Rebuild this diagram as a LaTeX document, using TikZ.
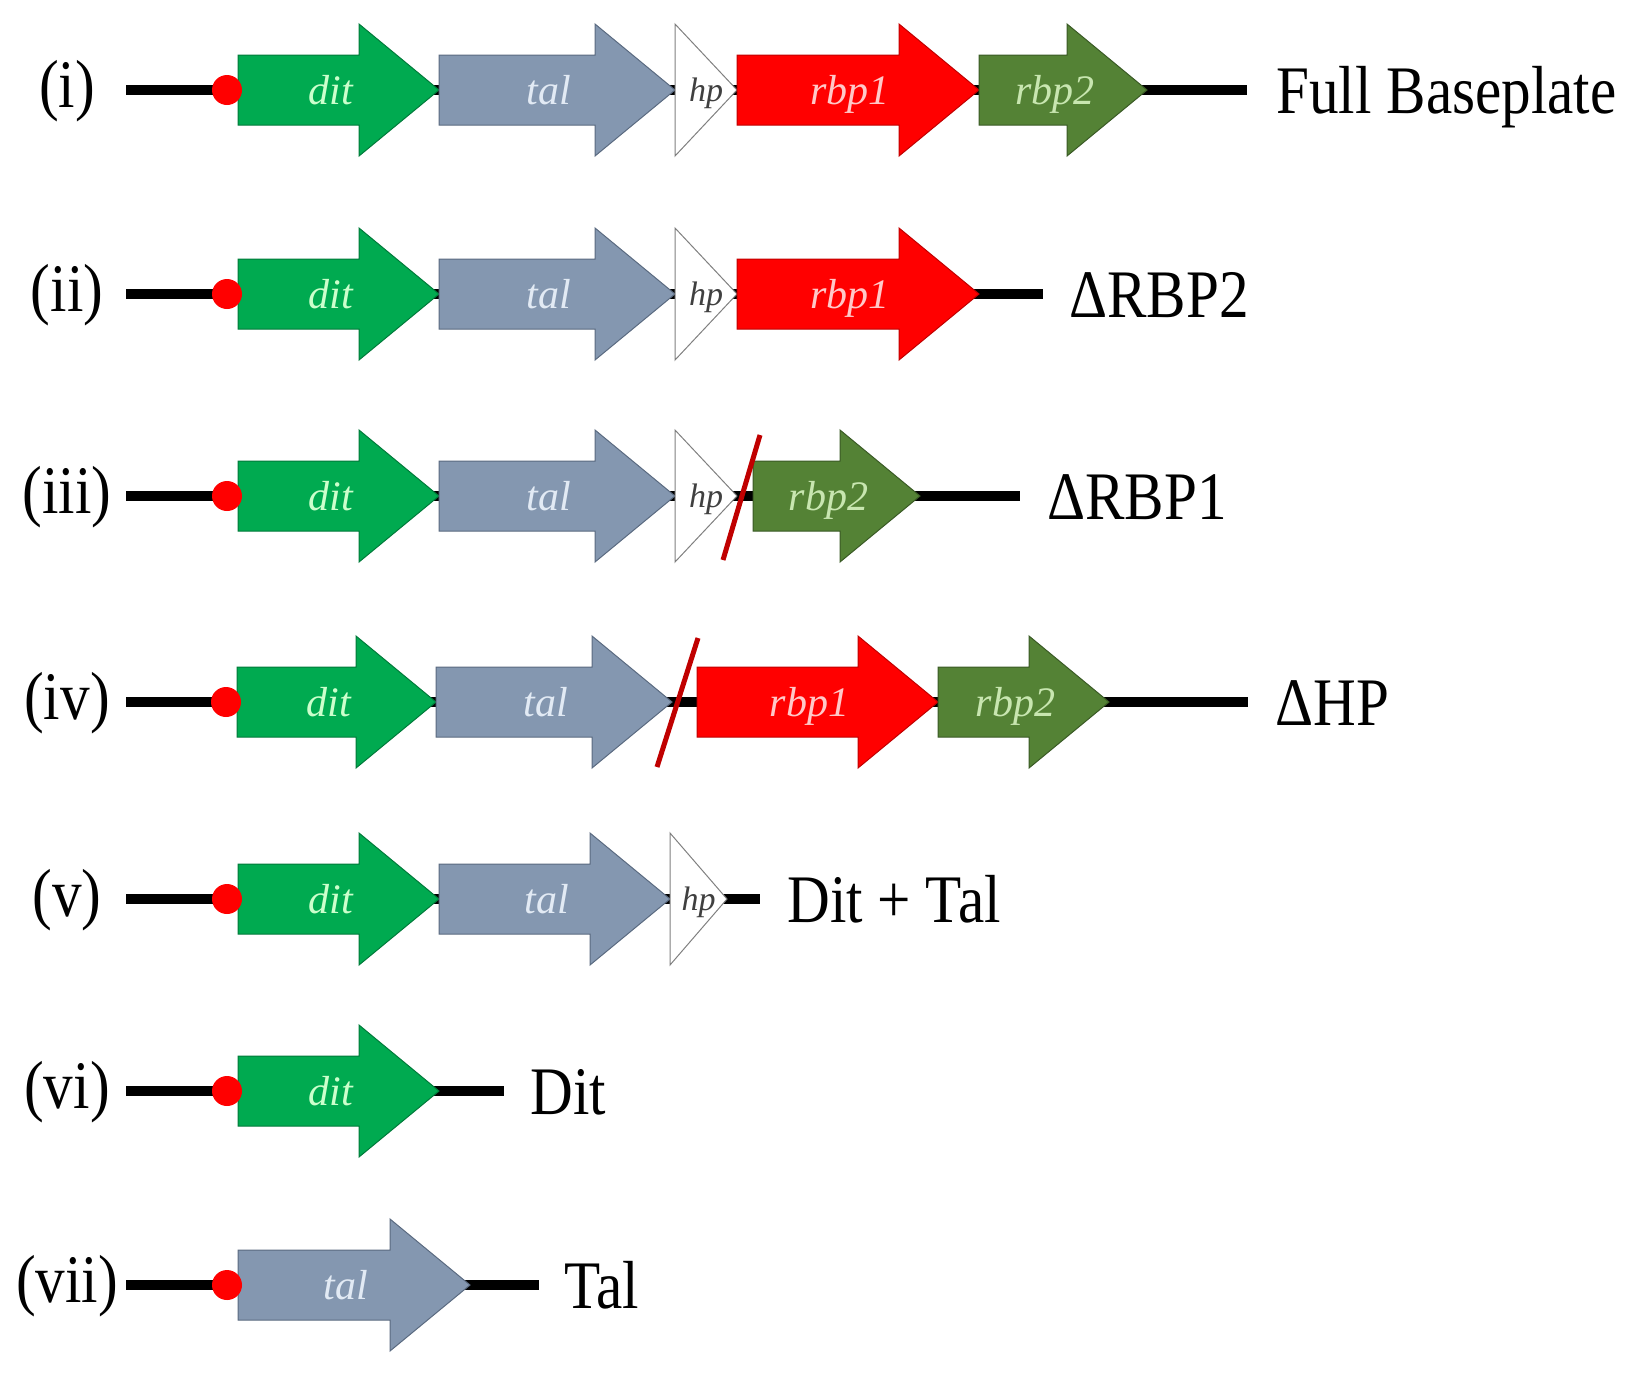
\documentclass[tikz,border=0pt]{standalone}
\usepackage{fontspec}
\setmainfont{Liberation Serif}
\definecolor{ditfill}{HTML}{00AA50}
\definecolor{ditdraw}{HTML}{007A3A}
\definecolor{dittext}{HTML}{CCFFCC}
\definecolor{talfill}{HTML}{8497B0}
\definecolor{taldraw}{HTML}{5A6A80}
\definecolor{taltext}{HTML}{E2EAF4}
\definecolor{rbpAfill}{HTML}{FF0000}
\definecolor{rbpAdraw}{HTML}{C00000}
\definecolor{rbpAtext}{HTML}{FFC8C8}
\definecolor{rbpBfill}{HTML}{548235}
\definecolor{rbpBdraw}{HTML}{3A5A25}
\definecolor{rbpBtext}{HTML}{C8E6B0}
\definecolor{hpdraw}{HTML}{808080}
\definecolor{hptext}{HTML}{404040}
\definecolor{slashred}{HTML}{C00000}
\newcommand\cond[1]{\scalebox{0.87}[1]{#1}}
% gene arrow: name, x0, xtip, y, fill, draw, textcolor, label
\newcommand\genearrow[8]{%
  \coordinate (#1s) at (#2,#4);
  \coordinate (#1t) at (#3,#4);
  \draw[genebox, fill=#5, draw=#6] ({#2},{#4-35}) -- ({#3-80},{#4-35}) -- ({#3-80},{#4-66})
     -- ({#3},{#4}) -- ({#3-80},{#4+66}) -- ({#3-80},{#4+35}) -- ({#2},{#4+35}) -- cycle;
  \node[genelab, text=#7] (#1) at ({(#2+#3)/2-8},{#4+14}) {#8};
}
% hp triangle: name, x0, xtip, y
\newcommand\hpgene[4]{%
  \coordinate (#1s) at (#2,#4);
  \coordinate (#1t) at (#3,#4);
  \draw[genebox, fill=white, draw=hpdraw] ({#2},{#4-66}) -- ({#3},{#4}) -- ({#2},{#4+66}) -- cycle;
  \node[hplab] (#1) at ({(#2+#3)/2},{#4+11}) {hp};
}
\begin{document}
\begin{tikzpicture}[x={(0.5pt,0)}, y={(0,-0.5pt)},
  genebox/.style={line width=0.5pt, line join=miter},
  genelab/.style={anchor=base, inner sep=0pt, font=\fontsize{21}{21}\selectfont\itshape},
  hplab/.style={anchor=base, inner sep=0pt, text=hptext, font=\fontsize{17}{17}\selectfont\itshape},
  rowlab/.style={anchor=base, inner sep=0pt, font=\fontsize{34}{34}\selectfont},
  sidelab/.style={anchor=base west, inner sep=0pt, font=\fontsize{34}{34}\selectfont},
  backbone/.style={line width=5pt, black},
  slash/.style={line width=2.5pt, slashred},
  dot/.style={circle, fill=red, inner sep=0pt, minimum size=15pt}]
\useasboundingbox (0,0) rectangle (1628,1373);

% ---------- row (i) ----------
\coordinate (a1) at (126,90); \coordinate (b1) at (1247,90);
\draw[backbone] (a1) -- (b1);
\genearrow{dit1}{238}{439}{90}{ditfill}{ditdraw}{dittext}{dit}
\genearrow{tal1}{439}{675}{90}{talfill}{taldraw}{taltext}{tal}
\hpgene{hp1}{675}{737}{90}
\genearrow{rbpA1}{737}{979}{90}{rbpAfill}{rbpAdraw}{rbpAtext}{rbp1}
\genearrow{rbpB1}{979}{1147}{90}{rbpBfill}{rbpBdraw}{rbpBtext}{rbp2}
\node[dot] (p1) at (227,90) {};
\node[rowlab] (r1) at (67,107) {\cond{(i)}};
\node[sidelab] (t1) at (1276,113) {\cond{Full Baseplate}};

% ---------- row (ii) ----------
\coordinate (a2) at (126,294); \coordinate (b2) at (1043,294);
\draw[backbone] (a2) -- (b2);
\genearrow{dit2}{238}{439}{294}{ditfill}{ditdraw}{dittext}{dit}
\genearrow{tal2}{439}{675}{294}{talfill}{taldraw}{taltext}{tal}
\hpgene{hp2}{675}{737}{294}
\genearrow{rbpA2}{737}{979}{294}{rbpAfill}{rbpAdraw}{rbpAtext}{rbp1}
\node[dot] (p2) at (227,294) {};
\node[rowlab] (r2) at (67,311) {\cond{(ii)}};
\node[sidelab] (t2) at (1069,317) {\cond{ΔRBP2}};

% ---------- row (iii) ----------
\coordinate (a3) at (126,496); \coordinate (b3) at (1020,496);
\draw[backbone] (a3) -- (b3);
\genearrow{dit3}{238}{439}{496}{ditfill}{ditdraw}{dittext}{dit}
\genearrow{tal3}{439}{675}{496}{talfill}{taldraw}{taltext}{tal}
\hpgene{hp3}{675}{737}{496}
\genearrow{rbpB3}{753}{920}{496}{rbpBfill}{rbpBdraw}{rbpBtext}{rbp2}
\node[dot] (p3) at (227,496) {};
\coordinate (s3a) at (760,435); \coordinate (s3b) at (723,560);
\draw[slash] (s3a) -- (s3b);
\node[rowlab] (r3) at (67,513) {\cond{(iii)}};
\node[sidelab] (t3) at (1047,519) {\cond{ΔRBP1}};

% ---------- row (iv) ----------
\coordinate (a4) at (126,702); \coordinate (b4) at (1248,702);
\draw[backbone] (a4) -- (b4);
\genearrow{dit4}{237}{436}{702}{ditfill}{ditdraw}{dittext}{dit}
\genearrow{tal4}{436}{672}{702}{talfill}{taldraw}{taltext}{tal}
\genearrow{rbpA4}{697}{938}{702}{rbpAfill}{rbpAdraw}{rbpAtext}{rbp1}
\genearrow{rbpB4}{938}{1109}{702}{rbpBfill}{rbpBdraw}{rbpBtext}{rbp2}
\node[dot] (p4) at (226,702) {};
\coordinate (s4a) at (698,638); \coordinate (s4b) at (657,767);
\draw[slash] (s4a) -- (s4b);
\node[rowlab] (r4) at (67,719) {\cond{(iv)}};
\node[sidelab] (t4) at (1275,725) {\cond{ΔHP}};

% ---------- row (v) ----------
\coordinate (a5) at (126,899); \coordinate (b5) at (760,899);
\draw[backbone] (a5) -- (b5);
\genearrow{dit5}{238}{439}{899}{ditfill}{ditdraw}{dittext}{dit}
\genearrow{tal5}{439}{670}{899}{talfill}{taldraw}{taltext}{tal}
\hpgene{hp5}{670}{727}{899}
\node[dot] (p5) at (227,899) {};
\node[rowlab] (r5) at (67,916) {\cond{(v)}};
\node[sidelab] (t5) at (787,922) {\cond{Dit + Tal}};

% ---------- row (vi) ----------
\coordinate (a6) at (126,1091); \coordinate (b6) at (504,1091);
\draw[backbone] (a6) -- (b6);
\genearrow{dit6}{238}{439}{1091}{ditfill}{ditdraw}{dittext}{dit}
\node[dot] (p6) at (227,1091) {};
\node[rowlab] (r6) at (67,1108) {\cond{(vi)}};
\node[sidelab] (t6) at (530,1114) {\cond{Dit}};

% ---------- row (vii) ----------
\coordinate (a7) at (126,1285); \coordinate (b7) at (539,1285);
\draw[backbone] (a7) -- (b7);
\genearrow{tal7}{238}{470}{1285}{talfill}{taldraw}{taltext}{tal}
\node[dot] (p7) at (227,1285) {};
\node[rowlab] (r7) at (67,1302) {\cond{(vii)}};
\node[sidelab] (t7) at (564,1308) {\cond{Tal}};
\end{tikzpicture}
\end{document}
